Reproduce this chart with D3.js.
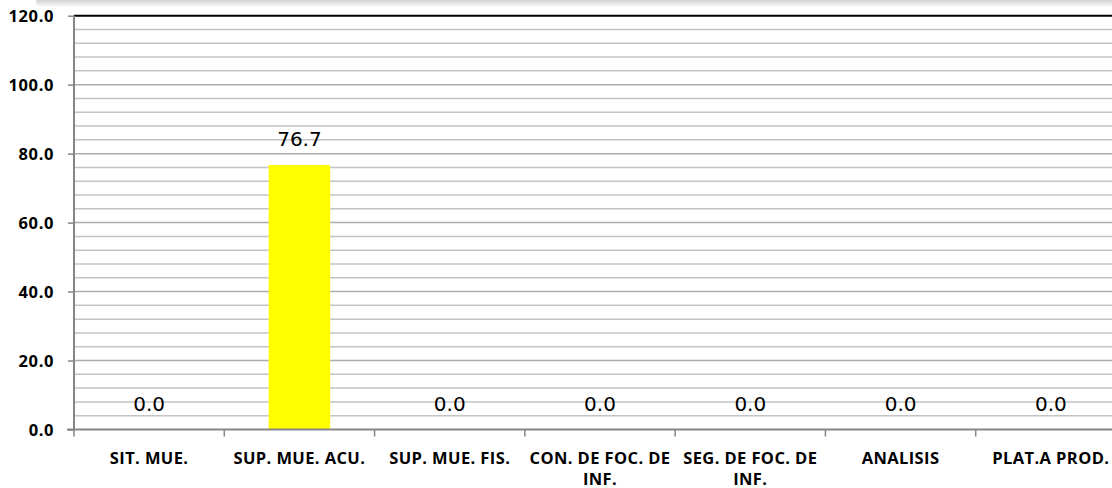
<!DOCTYPE html>
<html><head><meta charset="utf-8">
<script src="https://cdn.jsdelivr.net/npm/d3@7"></script>
<style>html,body{margin:0;padding:0;background:#fff;overflow:hidden}</style>
</head><body>
<svg id="c" width="1112" height="488"></svg>
<script>
const categories = [["SIT. MUE."],["SUP. MUE. ACU."],["SUP. MUE. FIS."],["CON. DE FOC. DE","INF."],["SEG. DE FOC. DE","INF."],["ANALISIS"],["PLAT.A PROD."]];
const values = [0.0, 76.7, 0.0, 0.0, 0.0, 0.0, 0.0];
const yTicks = [0, 20, 40, 60, 80, 100, 120];
const yMinor = d3.range(0, 121, 4);

(function(){
const svg = d3.select("#c");
const pL = 74, pR = 1126, pT = 15.7, pB = 429.5;
const x = d3.scaleBand().domain(d3.range(categories.length)).range([pL, pR]).paddingInner(0.59).paddingOuter(0.295);
const xb = d3.scaleBand().domain(d3.range(categories.length)).range([pL, pR]);
const y = d3.scaleLinear().domain([0, 120]).range([pB, pT]);

// top shadow
const defs = svg.append("defs");
const g1 = defs.append("linearGradient").attr("id","sh").attr("x1",0).attr("y1",0).attr("x2",0).attr("y2",1);
g1.append("stop").attr("offset","0%").attr("stop-color","#bdbdbd");
g1.append("stop").attr("offset","100%").attr("stop-color","#ffffff");
svg.append("rect").attr("x",36).attr("y",-3).attr("width",1100).attr("height",10).attr("rx",5).attr("fill","url(#sh)");

// gridlines
svg.append("g").selectAll("line").data(yMinor.filter(d => d > 0 && d < 120)).join("line")
  .attr("x1", pL).attr("x2", 1112).attr("y1", d => y(d)).attr("y2", d => y(d))
  .attr("stroke", d => d % 20 === 0 ? "#ababab" : "#c4c4c4").attr("stroke-width", 1.5);
svg.append("line").attr("x1", pL).attr("x2", 1112).attr("y1", y(120)).attr("y2", y(120))
  .attr("stroke", "#000").attr("stroke-width", 2);

// bars
svg.append("g").selectAll("rect").data(values).join("rect")
  .attr("x", (d,i) => x(i)).attr("width", x.bandwidth())
  .attr("y", d => y(d)).attr("height", d => pB - y(d))
  .attr("fill", "#ffff00");

// value labels
svg.append("g").selectAll("text").data(values).join("text")
  .attr("x", (d,i) => x(i) + x.bandwidth()/2).attr("y", d => y(d) - 19)
  .attr("text-anchor","middle").attr("font-family","DejaVu Sans").attr("font-size",20)
  .attr("fill","#000").text(d => d.toFixed(1));

// y axis
const ya = svg.append("g").attr("transform", `translate(${pL},0)`)
  .call(d3.axisLeft(y).tickValues(yTicks).tickSize(6).tickPadding(14).tickFormat(d => d.toFixed(1)));
ya.select(".domain").attr("stroke","#868686").attr("stroke-width",2).attr("d", `M0,${pT}V${pB+1}`);
ya.selectAll(".tick line").attr("stroke","#868686").attr("stroke-width",1.5);
ya.selectAll(".tick text").attr("font-family","Open Sans").attr("font-weight","bold").attr("font-size",16.5)
  .attr("letter-spacing","0.6px").attr("fill","#000").attr("dy","0.35em");

// x axis
const xa = svg.append("g").attr("transform", `translate(0,${pB})`);
xa.append("line").attr("x1", pL-7).attr("x2", 1112).attr("y1",0).attr("y2",0).attr("stroke","#868686").attr("stroke-width",2);
xa.selectAll("line.t").data(d3.range(categories.length+1)).join("line").attr("class","t")
  .attr("x1", i => i < categories.length ? xb(i) : pR).attr("x2", i => i < categories.length ? xb(i) : pR)
  .attr("y1",0).attr("y2",7).attr("stroke","#868686").attr("stroke-width",1.5);
const lbl = xa.selectAll("text").data(categories).join("text")
  .attr("text-anchor","middle").attr("font-family","Open Sans").attr("font-weight","bold").attr("font-size",16.5)
  .attr("letter-spacing","0.4px").attr("fill","#000");
lbl.each(function(d,i){
  const t = d3.select(this);
  d.forEach((line,k) => {
    t.append("tspan").attr("x", xb(i) + xb.bandwidth()/2).attr("y", 34 + k*21).text(line);
  });
});
})();
</script>
</body></html>
